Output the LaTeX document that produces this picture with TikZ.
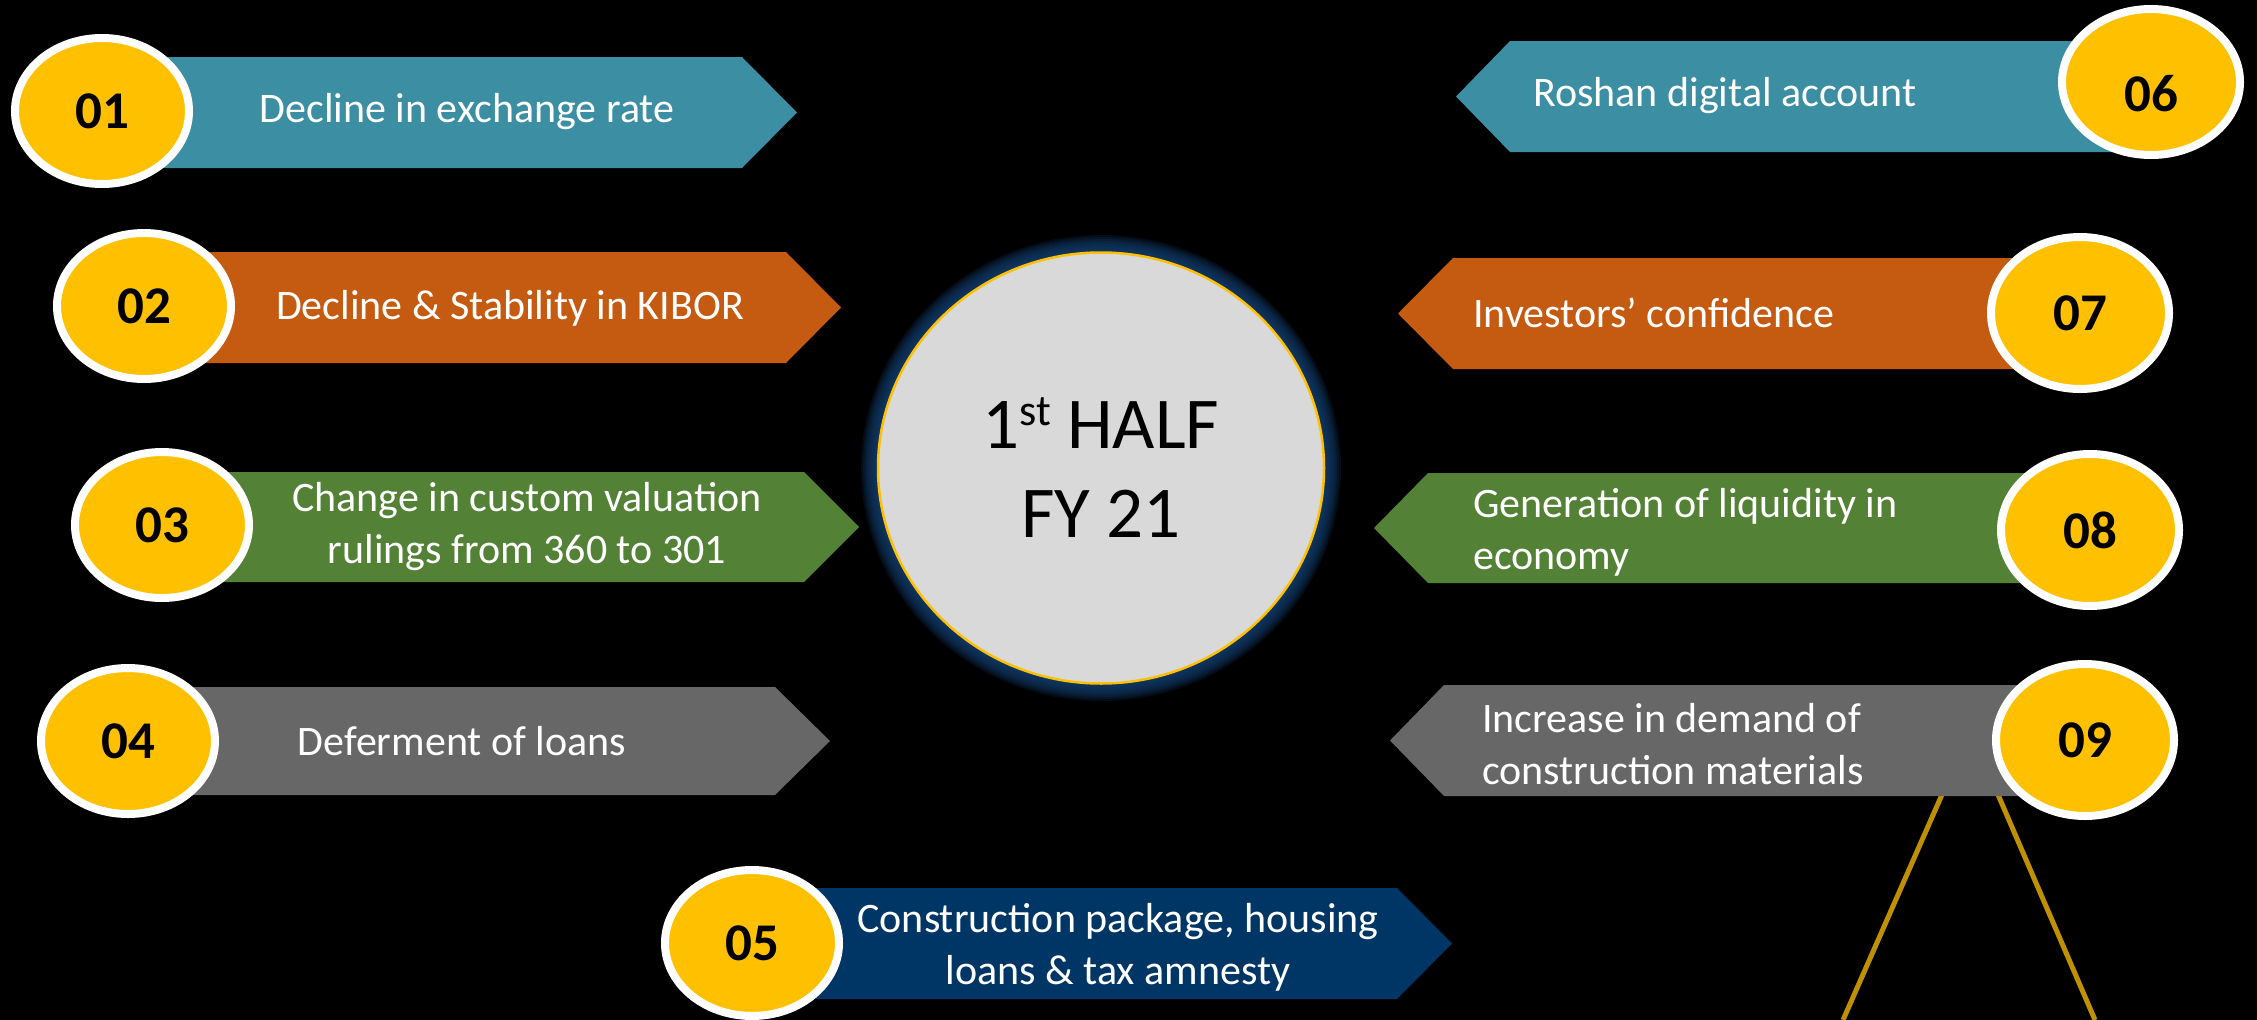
\documentclass[tikz,border=0pt]{standalone}
\usepackage{fontspec}
\setmainfont{Carlito}
\usetikzlibrary{shapes.geometric}

\definecolor{tealbar}{RGB}{60,142,163}
\definecolor{rustbar}{RGB}{197,90,17}
\definecolor{leafbar}{RGB}{83,129,53}
\definecolor{slatebar}{RGB}{103,103,103}
\definecolor{navybar}{RGB}{0,54,102}
\definecolor{numyellow}{RGB}{255,192,0}
\definecolor{hubgray}{RGB}{217,217,217}
\definecolor{glowblue}{RGB}{18,62,112}
\definecolor{roadgold}{RGB}{191,144,0}

\begin{document}
\begin{tikzpicture}[x=1pt,y=-1pt,
    badge/.style={ellipse,draw=white,line width=8pt,fill=numyellow,
      minimum width=174pt,minimum height=146pt,inner sep=0pt,
      font=\fontsize{53}{60}\selectfont\bfseries},
    bigbadge/.style={badge,minimum width=178pt,minimum height=152pt},
    bartext/.style={text=white,inner sep=0pt,
      font=\fontsize{42}{52}\selectfont},
    hub/.style={ellipse,draw=numyellow,line width=2.5pt,fill=hubgray,
      minimum width=446pt,minimum height=431pt,inner sep=0pt,
      font=\fontsize{73}{89}\selectfont,align=center},
    road/.style={draw=roadgold,line width=5pt}]
  \useasboundingbox (0,0) rectangle (2257,1020);
  \fill[black] (0,0) rectangle (2257,1020);

  % the two gold lines under item 09
  \coordinate (r1a) at (1944,790);
  \coordinate (r1b) at (1843,1020);
  \coordinate (r2a) at (1996,790);
  \coordinate (r2b) at (2095,1020);
  \draw[road] (r1a) -- (r1b);
  \draw[road] (r2a) -- (r2b);

  % left column, pointing right
  \fill[tealbar] (102,57) -- (742,57) -- (797,112.5) -- (742,168) -- (102,168) -- cycle;
  \fill[rustbar] (144,252) -- (786,252) -- (841,307.5) -- (786,363) -- (144,363) -- cycle;
  \fill[leafbar] (162,472) -- (804,472) -- (859,527) -- (804,582) -- (162,582) -- cycle;
  \fill[slatebar] (128,687) -- (775,687) -- (830,741) -- (775,795) -- (128,795) -- cycle;
  \fill[navybar] (752,888) -- (1397,888) -- (1452,943.5) -- (1397,999) -- (752,999) -- cycle;

  % right column, pointing left
  \fill[tealbar] (2151,41) -- (1510,41) -- (1456,96.5) -- (1510,152) -- (2151,152) -- cycle;
  \fill[rustbar] (2080,258) -- (1453,258) -- (1398,313.5) -- (1453,369) -- (2080,369) -- cycle;
  \fill[leafbar] (2090,473) -- (1428,473) -- (1374,528) -- (1428,583) -- (2090,583) -- cycle;
  \fill[slatebar] (2085,685) -- (1444,685) -- (1390,740.5) -- (1444,796) -- (2085,796) -- cycle;

  % texts on the bars
  \node[bartext] (t01) at (467,112) {Decline in exchange rate};
  \node[bartext] (t02) at (510,308) {Decline \& Stability in KIBOR};
  \node[bartext,align=center] (t03) at (527,527) {Change in custom valuation\\rulings from 360 to 301};
  \node[bartext] (t04) at (462,741) {Deferment of loans};
  \node[bartext,align=center] (t05) at (1118,947) {Construction package, housing\\loans \& tax amnesty};
  \node[bartext,anchor=west] (t06) at (1533,96) {Roshan digital account};
  \node[bartext,anchor=west] (t07) at (1473,313) {Investors’ confidence};
  \node[bartext,anchor=west,align=left] (t08) at (1473,532) {Generation of liquidity in\\economy};
  \node[bartext,anchor=west,align=left] (t09) at (1482,744) {Increase in demand of\\construction materials};

  % numbered badges
  \node[badge] (n01) at (102,111) {01};
  \node[badge] (n02) at (144,306) {02};
  \node[badge] (n03) at (162,525) {03};
  \node[badge] (n04) at (128,741) {04};
  \node[badge] (n05) at (752,943) {05};
  \node[bigbadge,minimum height=146pt] (n06) at (2151,82) {};
  \node[font=\fontsize{53}{60}\selectfont\bfseries,inner sep=0pt] (n06num) at (2151,94) {06};
  \node[bigbadge] (n07) at (2080,313) {07};
  \node[bigbadge] (n08) at (2090,530) {08};
  \node[bigbadge] (n09) at (2085,740) {09};

  % centre with a soft blue rim
  \coordinate (hubc) at (1101,468);
  \foreach \g in {0,...,7}
    \fill[glowblue,opacity=0.2] (hubc) ellipse [x radius={(240-2*\g)*1pt}, y radius={(233-2*\g)*1pt}];
  \node[hub] (half) at (hubc) {1\raisebox{23pt}{\fontsize{44}{44}\selectfont st} HALF\\FY 21};
\end{tikzpicture}
\end{document}
